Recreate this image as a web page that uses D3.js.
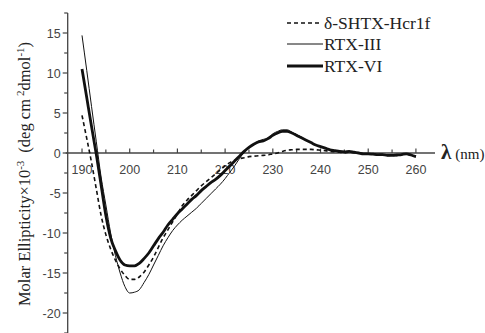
<!DOCTYPE html>
<html><head><meta charset="utf-8">
<script src="https://cdn.jsdelivr.net/npm/d3@7"></script>
<style>body{margin:0;background:#fff}</style>
</head><body>
<svg id="c" width="485" height="333"></svg>
<script>
const wavelength = [190,191,192,193,194,195,196,197,198,199,200,201,202,203,204,205,206,207,208,209,210,211,212,213,214,215,216,217,218,219,220,221,222,223,224,225,226,227,228,229,230,231,232,233,234,235,236,237,238,239,240,241,242,243,244,245,246,247,248,249,250,251,252,253,254,255,256,257,258,259,260];
const shtx = [4.7,1.8,-1.2,-4.5,-7.8,-10.2,-12.0,-13.4,-14.5,-15.3,-15.8,-15.8,-15.5,-14.9,-14.0,-13.0,-11.8,-10.6,-9.6,-8.6,-7.6,-6.6,-5.9,-5.3,-4.7,-4.1,-3.6,-3.1,-2.6,-2.1,-1.6,-1.2,-0.9,-0.7,-0.6,-0.45,-0.4,-0.35,-0.3,-0.25,-0.1,0.0,0.2,0.35,0.4,0.45,0.45,0.45,0.45,0.4,0.35,0.3,0.2,0.15,0.1,0.05,0.1,0.05,0.0,-0.1,-0.1,-0.1,-0.2,-0.2,-0.3,-0.3,-0.3,-0.2,-0.1,-0.3,-0.4];
const rtx3 = [14.7,10.3,5.8,1.4,-3.0,-6.5,-10.0,-12.8,-15.0,-16.7,-17.5,-17.4,-17.1,-16.2,-15.2,-14.0,-12.8,-11.6,-10.6,-9.7,-9.0,-8.4,-7.9,-7.4,-6.9,-6.3,-5.7,-5.1,-4.5,-3.9,-3.2,-2.4,-1.6,-0.7,0.1,0.6,1.1,1.5,1.7,1.9,2.4,2.7,2.9,2.9,2.6,2.3,2.0,1.6,1.3,1.0,0.8,0.6,0.4,0.3,0.2,0.1,0.2,0.1,0.0,-0.1,-0.1,-0.1,-0.2,-0.2,-0.3,-0.3,-0.3,-0.2,-0.1,-0.3,-0.5];
const rtx6 = [10.5,6.9,3.3,-0.2,-4.0,-7.8,-10.6,-12.2,-13.4,-14.0,-14.1,-14.1,-13.8,-13.2,-12.5,-11.6,-10.7,-9.9,-9.0,-8.3,-7.6,-7.0,-6.4,-5.8,-5.3,-4.7,-4.2,-3.7,-3.3,-2.8,-2.2,-1.6,-1.0,-0.4,0.2,0.7,1.1,1.4,1.5,1.8,2.2,2.5,2.7,2.7,2.5,2.2,1.9,1.6,1.3,1.0,0.8,0.6,0.4,0.3,0.2,0.15,0.2,0.1,0.0,-0.1,-0.1,-0.15,-0.2,-0.2,-0.3,-0.3,-0.25,-0.2,-0.1,-0.25,-0.45];
const seriesNames = ["δ-SHTX-Hcr1f","RTX-III","RTX-VI"];
const xTicks = [190,200,210,220,230,240,250,260];
const yTicks = [15,10,5,0,-5,-10,-15,-20];

const svg = d3.select("#c");
const x = d3.scaleLinear().domain([187,264]).range([67.7,435]);
const y = d3.scaleLinear().domain([-22.5,17.5]).range([333,13]);
const axisCol = "#444";
const serif = "'Liberation Serif', 'Times New Roman', serif";

// Y axis
const yAxis = svg.append("g").attr("transform",`translate(${x(187)},0)`);
yAxis.append("line").attr("y1",y(17.5)).attr("y2",y(-22.5)).attr("stroke",axisCol).attr("stroke-width",1.3);
const yMinor = d3.range(-22.5,17.6,2.5);
yAxis.selectAll(".ym").data(yMinor).join("line")
  .attr("x1",0).attr("x2",d=>yTicks.includes(d)?-5:-3.5)
  .attr("y1",d=>y(d)).attr("y2",d=>y(d)).attr("stroke",axisCol).attr("stroke-width",1.2);
yAxis.selectAll(".yl").data(yTicks).join("text")
  .attr("x",-7).attr("y",d=>y(d)+4.5).attr("text-anchor","end")
  .attr("font-family","'Liberation Sans', Arial, sans-serif").attr("font-size",12.5).attr("fill","#444")
  .text(d=>d);

// X axis at y=0
const xAxis = svg.append("g").attr("transform",`translate(0,${y(0)})`);
xAxis.append("line").attr("x1",x(187)-2).attr("x2",x(264)).attr("stroke",axisCol).attr("stroke-width",1.3);
const xMinor = d3.range(190,261,5);
xAxis.selectAll(".xm").data(xMinor).join("line")
  .attr("x1",d=>x(d)).attr("x2",d=>x(d))
  .attr("y1",0).attr("y2",d=>xTicks.includes(d)?-4.5:-3.5)
  .attr("stroke",axisCol).attr("stroke-width",1.2);
xAxis.selectAll(".xl").data(xTicks).join("text")
  .attr("x",d=>x(d)).attr("y",21).attr("text-anchor","middle")
  .attr("font-family","'Liberation Sans', Arial, sans-serif").attr("font-size",12.5).attr("fill","#444")
  .text(d=>d);
const xl = xAxis.append("text").attr("x",441).attr("y",6).attr("font-family",serif).attr("fill","#222");
xl.append("tspan").attr("font-size",21).attr("font-weight","bold").text("λ");
xl.append("tspan").attr("font-size",15).attr("dx",4).text("(nm)");

// Y label
const yl = svg.append("text").attr("transform","translate(30,174) rotate(-90)")
  .attr("text-anchor","middle").attr("font-family",serif)
  .attr("font-size",16.5).attr("fill","#222");
yl.append("tspan").text("Molar Ellipticity×10");
yl.append("tspan").attr("font-size",11).attr("dy",-6).text("-3");
yl.append("tspan").attr("dy",6).attr("dx",8).text("(deg cm");
yl.append("tspan").attr("font-size",11).attr("dy",-6).attr("dx",3).text("2");
yl.append("tspan").attr("dy",6).text("dmol");
yl.append("tspan").attr("font-size",11).attr("dy",-6).text("-1");
yl.append("tspan").attr("dy",6).text(")");

// Lines
const line = d3.line().x((d,i)=>x(wavelength[i])).y(d=>y(d)).curve(d3.curveMonotoneX);
const styles = [
  {data:shtx, w:1.6, dash:"4,3"},
  {data:rtx3, w:1.0, dash:null},
  {data:rtx6, w:2.8, dash:null}
];
styles.forEach(s=>{
  svg.append("path").attr("d",line(s.data)).attr("fill","none").attr("stroke","#111")
    .attr("stroke-width",s.w).attr("stroke-dasharray",s.dash).attr("stroke-linejoin","round");
});

// Legend
const legY = [23,44,66];
const lg = svg.append("g");
seriesNames.forEach((n,i)=>{
  lg.append("line").attr("x1",287).attr("x2",i===0?319:323).attr("y1",legY[i]).attr("y2",legY[i])
    .attr("stroke","#111").attr("stroke-width",styles[i].w).attr("stroke-dasharray",styles[i].dash);
  lg.append("text").attr("x",324).attr("y",legY[i]+6)
    .attr("font-family",serif).attr("font-size",17.5).attr("fill","#222").text(n);
});
</script>
</body></html>
